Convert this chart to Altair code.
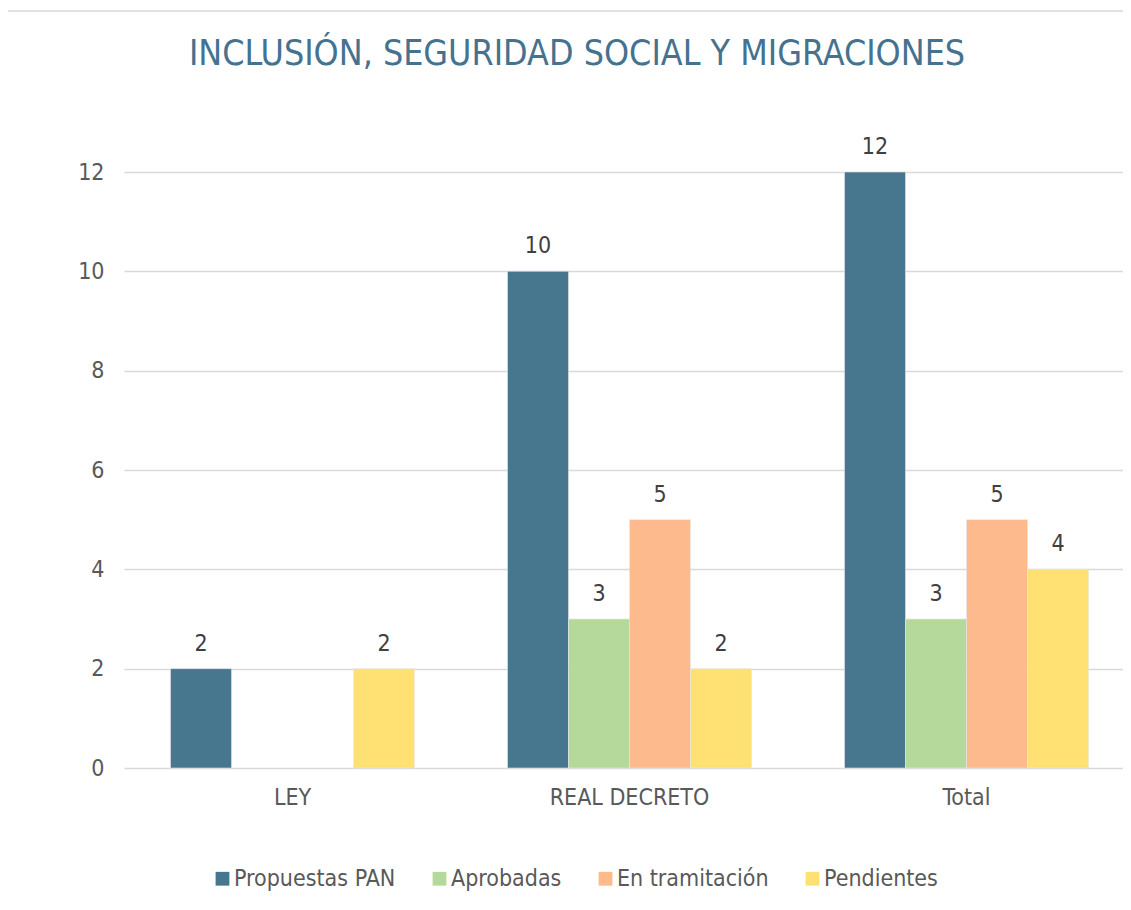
import altair as alt
import pandas as pd

categories = ["LEY", "REAL DECRETO", "Total"]
series = ["Propuestas PAN", "Aprobadas", "En tramitación", "Pendientes"]
propuestas = [2, 10, 12]
aprobadas = [0, 3, 3]
tramitacion = [0, 5, 5]
pendientes = [2, 2, 4]
colors = ["#47768F", "#B5D99A", "#FDBA8C", "#FEE172"]
title_text = "INCLUSIÓN, SEGURIDAD SOCIAL Y MIGRACIONES"

rows = []
for s, vals in zip(series, [propuestas, aprobadas, tramitacion, pendientes]):
    for c, v in zip(categories, vals):
        if v != 0:
            rows.append({"cat": c, "serie": s, "valor": v})
df = pd.DataFrame(rows)

FONT = "DejaVu Sans Condensed"
FS = 23

x = alt.X("cat:N", sort=categories, title=None,
          scale=alt.Scale(paddingInner=0.276, paddingOuter=0.138, range=[0, 1011]),
          axis=alt.Axis(labelAngle=0, labelFont=FONT, labelFontSize=FS, labelColor="#595959",
                        labelPadding=18, ticks=False, domain=False))
xo = alt.XOffset("serie:N", sort=series, scale=alt.Scale(domain=series, paddingInner=0, paddingOuter=0))
y = alt.Y("valor:Q", title=None,
          scale=alt.Scale(domain=[0, 12], nice=False),
          axis=alt.Axis(values=[0, 2, 4, 6, 8, 10, 12], labelFont=FONT, labelFontSize=FS,
                        labelColor="#595959", labelPadding=20, ticks=False, domain=False,
                        gridColor="#D9D9D9", gridWidth=1.5))

bars = alt.Chart(df).mark_bar(stroke="#E6E6E6", strokeWidth=0.6).encode(
    x=x, xOffset=xo, y=y,
    color=alt.Color("serie:N", sort=series,
                    scale=alt.Scale(domain=series, range=colors),
                    legend=alt.Legend(title=None, orient="none", direction="horizontal",
                                      legendX=87, legendY=695, padding=0,
                                      labelFont=FONT, labelFontSize=FS,
                                      labelColor="#595959", symbolType="square", symbolSize=190,
                                      symbolStrokeWidth=0, columnPadding=32, labelOffset=0,
                                      labelLimit=400)),
)

labels = alt.Chart(df).mark_text(dy=-25, baseline="middle", font=FONT, fontSize=FS,
                                 color="#404040").encode(
    x=alt.X("cat:N", sort=categories), xOffset=alt.XOffset("serie:N", sort=series),
    y="valor:Q", text="valor:Q")

title = alt.Chart(pd.DataFrame({"t": [title_text]})).mark_text(
    font=FONT, fontSize=35.5, color="#44728F", align="center",
    baseline="middle").encode(x=alt.value(453), y=alt.value(-118), text="t:N")

topline = alt.Chart(pd.DataFrame({"a": [0]})).mark_rule(color="#D9D9D9", strokeWidth=1.5).encode(
    x=alt.value(-116), x2=alt.value(999), y=alt.value(-161))

chart = alt.layer(bars, labels, title, topline).properties(
    width=999, height=596,
    autosize=alt.AutoSizeParams(type="none"),
    padding={"left": 116, "top": 164, "right": 0, "bottom": 130},
).configure_view(stroke=None)

chart.save("out.html", embed_options={"renderer": "svg", "actions": False})
